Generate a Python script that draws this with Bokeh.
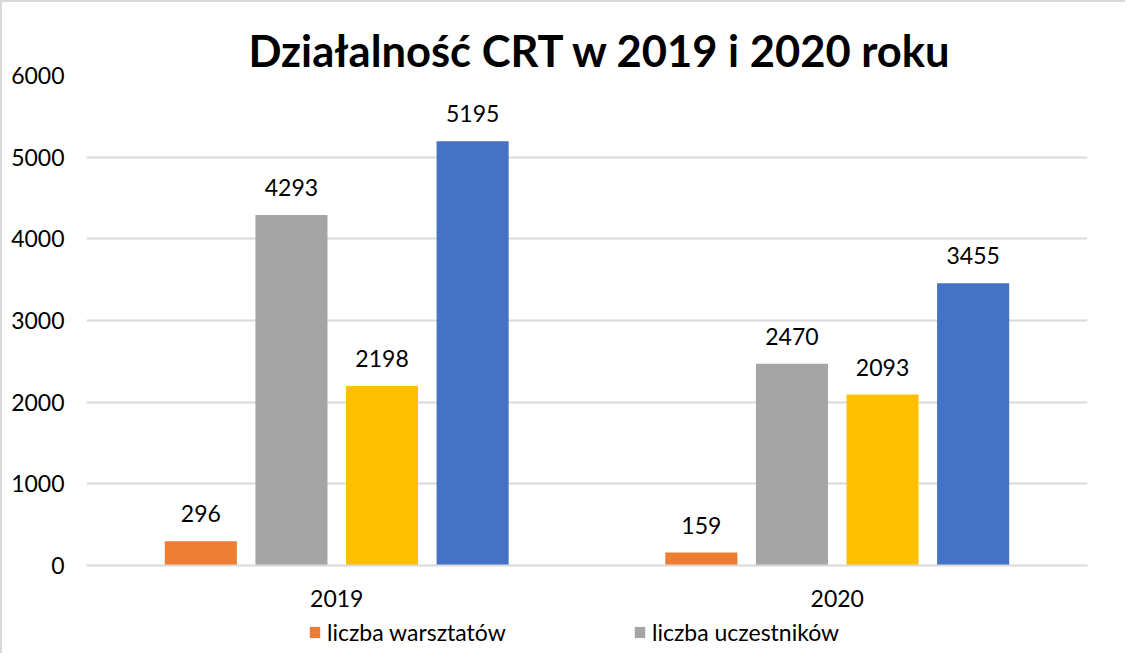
from bokeh.plotting import figure
from bokeh.models import FactorRange, ColumnDataSource, LabelSet, Legend, LegendItem, Range1d
from bokeh.transform import dodge
from bokeh.core.properties import value
from bokeh.layouts import column
from bokeh.embed import file_html
from bokeh.resources import INLINE

years = ["2019", "2020"]
series_names = ["liczba warsztatów", "liczba uczestników", "seria 3", "seria 4"]
warsztaty = [296, 159]
uczestnicy = [4293, 2470]
seria3 = [2198, 2093]
seria4 = [5195, 3455]
colors = ["#ED7D31", "#A5A5A5", "#FFC000", "#4472C4"]
offsets = [-0.2715, -0.0905, 0.0905, 0.2715]
y_ticks = [0, 1000, 2000, 3000, 4000, 5000, 6000]

FONT = "Lato"

src = ColumnDataSource(dict(year=years, s0=warsztaty, s1=uczestnicy, s2=seria3, s3=seria4,
                            l0=[str(v) for v in warsztaty], l1=[str(v) for v in uczestnicy],
                            l2=[str(v) for v in seria3], l3=[str(v) for v in seria4]))

p = figure(x_range=FactorRange(*years, range_padding=0), y_range=Range1d(0, 6000),
           frame_width=1001, frame_height=490, output_backend="svg", toolbar_location=None,
           min_border_left=84, min_border_right=38, min_border_top=73, min_border_bottom=51,
           title="Działalność CRT w 2019 i 2020 roku")

p.title.text_font = FONT
p.title.text_font_size = "43.5px"
p.title.text_font_style = "bold"
p.title.text_color = "black"
p.title.align = "left"
p.title.offset = 162
p.title.standoff = 0

p.outline_line_color = None
p.xgrid.grid_line_color = None
p.ygrid.grid_line_color = "#d9d9d9"
p.ygrid.grid_line_width = 2
p.yaxis.ticker = y_ticks
p.yaxis.axis_line_color = None
p.yaxis.major_tick_line_color = None
p.yaxis.minor_tick_line_color = None
p.yaxis.major_tick_out = 0
p.yaxis.major_label_standoff = 22
p.xaxis.axis_line_color = "#d9d9d9"
p.xaxis.axis_line_width = 2
p.xaxis.major_tick_line_color = None
p.xaxis.major_tick_out = 0
p.xaxis.major_label_standoff = 24
for ax in (p.xaxis[0], p.yaxis[0]):
    ax.major_label_text_font = FONT
    ax.major_label_text_font_size = "23px"
    ax.major_label_text_color = "black"

for i in range(4):
    p.vbar(x=dodge("year", offsets[i], range=p.x_range), top="s%d" % i, width=0.144,
           source=src, fill_color=colors[i], line_color=None)
    lbl = LabelSet(x=dodge("year", offsets[i], range=p.x_range), y="s%d" % i, text="l%d" % i,
                   source=src, text_align="center", text_baseline="alphabetic", y_offset=19,
                   text_font=value(FONT), text_font_size=value("23px"), text_color="black")
    p.add_layout(lbl)

# legend strip below the chart (same series colours)
pl = figure(width=1123, height=37, x_range=Range1d(0, 1), y_range=Range1d(0, 1),
            x_axis_type=None, y_axis_type=None, output_backend="svg", toolbar_location=None,
            min_border=0)
pl.outline_line_color = None
pl.grid.visible = False
leg_items = []
for i in range(2):
    r = pl.vbar(x=[-10], top=[0], width=0.1, fill_color=colors[i], line_color=None)
    leg_items.append(LegendItem(label=series_names[i], renderers=[r]))
lg = Legend(items=leg_items, location=(222, 7), orientation="horizontal",
            border_line_color=None, background_fill_alpha=0, padding=0, margin=0, spacing=0,
            glyph_width=13, glyph_height=14, label_standoff=6, label_width=306,
            label_text_font=FONT, label_text_font_size="23px", label_text_color="black")
pl.add_layout(lg)

layout = column(p, pl, spacing=0)
layout.styles = {"border-left": "2px solid #d9d9d9", "border-top": "2px solid #d9d9d9"}

open("out.html", "w").write(file_html(layout, INLINE))
